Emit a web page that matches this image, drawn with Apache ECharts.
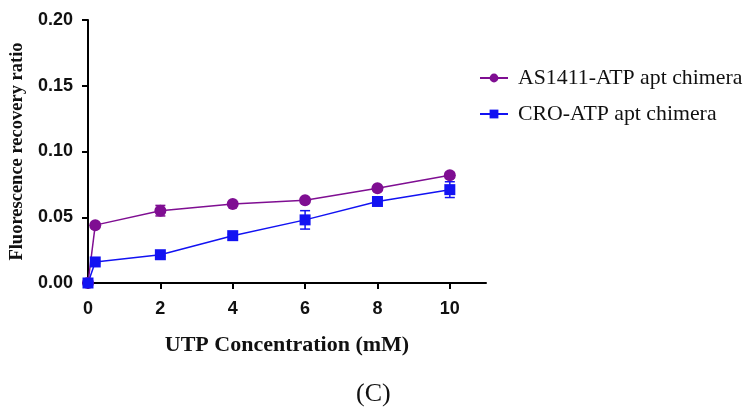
<!DOCTYPE html>
<html><head><meta charset="utf-8">
<script src="https://cdn.jsdelivr.net/npm/echarts@6/dist/echarts.min.js"></script>
<style>html,body{margin:0;padding:0;background:#fff}#c{width:753px;height:418px}</style>
</head><body><div id="c"></div>
<script>
const xValues = [0, 0.2, 2, 4, 6, 8, 10];
const as1411 = [0, 0.044, 0.055, 0.060, 0.063, 0.072, 0.082];
const as1411Err = [0, 0.001, 0.004, 0.001, 0.001, 0.001, 0.002];
const cro = [0, 0.016, 0.0215, 0.036, 0.048, 0.062, 0.071];
const croErr = [0, 0.001, 0.001, 0.001, 0.007, 0.002, 0.006];
const xTicks = [0, 2, 4, 6, 8, 10];
const yTicks = [0, 0.05, 0.10, 0.15, 0.20];
const seriesNames = ['AS1411-ATP apt chimera', 'CRO-ATP apt chimera'];
const colors = ['#7f0e92', '#1212f2'];

function pts(ys){ return xValues.map((x,i)=>[x, ys[i]]); }
function errData(ys, es){ return xValues.map((x,i)=>[x, ys[i]-es[i], ys[i]+es[i]]); }
function errSeries(ys, es, color){
  return {
    type:'custom', silent:true, z:1,
    data: errData(ys, es),
    encode:{x:0, y:[1,2]},
    renderItem(params, api){
      const x = api.value(0);
      const lo = api.coord([x, api.value(1)]);
      const hi = api.coord([x, api.value(2)]);
      const w = 5;
      const st = {stroke: color, lineWidth: 1.5};
      return {type:'group', children:[
        {type:'line', shape:{x1:lo[0], y1:lo[1], x2:hi[0], y2:hi[1]}, style:st},
        {type:'line', shape:{x1:lo[0]-w, y1:lo[1], x2:lo[0]+w, y2:lo[1]}, style:st},
        {type:'line', shape:{x1:hi[0]-w, y1:hi[1], x2:hi[0]+w, y2:hi[1]}, style:st}
      ]};
    }
  };
}

const chart = echarts.init(document.getElementById('c'), null, {renderer:'canvas'});
chart.setOption({
  animation:false,
  backgroundColor:'#fff',
  grid:{left:88, top:20, right:267, bottom:135},
  legend:{
    orient:'vertical', left:474, top:62, itemGap:14, itemWidth:28, itemHeight:11,
    data: seriesNames,
    textStyle:{fontFamily:'Liberation Serif', fontSize:21.8, color:'#111', padding:[0,0,0,5]}
  },
  xAxis:{
    type:'value', min:0, max:11,
    name:'UTP Concentration (mM)', nameLocation:'middle', nameGap:51,
    nameTextStyle:{fontFamily:'Liberation Serif', fontWeight:'bold', fontSize:22, color:'#111'},
    axisLine:{show:true, onZero:false, lineStyle:{color:'#000', width:2}},
    axisTick:{show:true, length:6, lineStyle:{color:'#000', width:2}, customValues: xTicks},
    axisLabel:{customValues: xTicks, fontFamily:'Liberation Sans', fontWeight:'bold', fontSize:18, color:'#111', margin:17},
    splitLine:{show:false}
  },
  yAxis:{
    type:'value', min:0, max:0.2, interval:0.05,
    name:'Fluorescence recovery ratio', nameLocation:'middle', nameGap:60,
    nameTextStyle:{fontFamily:'Liberation Serif', fontWeight:'bold', fontSize:18.5, color:'#111'},
    axisLine:{show:true, lineStyle:{color:'#000', width:2}},
    axisTick:{show:true, length:6, lineStyle:{color:'#000', width:2}},
    axisLabel:{fontFamily:'Liberation Sans', fontWeight:'bold', fontSize:18, color:'#111', margin:15,
      formatter:v=>v.toFixed(2)},
    splitLine:{show:false}
  },
  graphic:[{type:'text', left:356, top:381, style:{text:'(C)', font:'26px "Liberation Serif"', fill:'#111'}}],
  series:[
    errSeries(as1411, as1411Err, colors[0]),
    errSeries(cro, croErr, colors[1]),
    {name:seriesNames[0], type:'line', data:pts(as1411), symbol:'circle', symbolSize:12,
     itemStyle:{color:colors[0]}, lineStyle:{color:colors[0], width:1.5}, z:3},
    {name:seriesNames[1], type:'line', data:pts(cro), symbol:'rect', symbolSize:11,
     itemStyle:{color:colors[1]}, lineStyle:{color:colors[1], width:1.5}, z:3}
  ]
});
</script></body></html>
